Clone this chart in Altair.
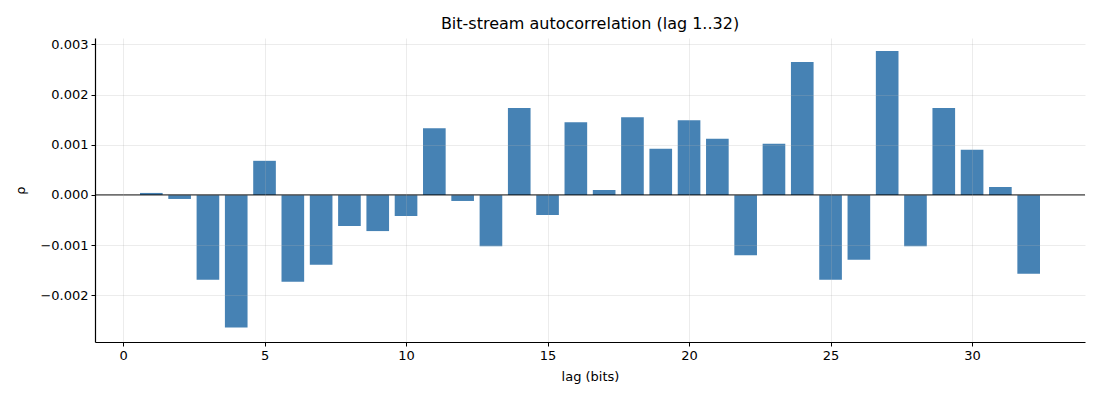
import altair as alt
import pandas as pd

lags = list(range(1, 33))
rho = [0.00004, -0.00008, -0.00169, -0.00264, 0.00068, -0.00173, -0.00139, -0.00062,
       -0.00072, -0.00042, 0.00133, -0.00012, -0.00102, 0.00173, -0.00040, 0.00145,
       0.00010, 0.00155, 0.00092, 0.00149, 0.00112, -0.00120, 0.00102, 0.00265,
       -0.00169, -0.00129, 0.00287, -0.00102, 0.00173, 0.00090, 0.00016, -0.00157]
x_ticks = [0, 5, 10, 15, 20, 25, 30]
y_ticks = [-0.002, -0.001, 0.0, 0.001, 0.002, 0.003]

df = pd.DataFrame({"lag": lags, "rho": rho})
df["x0"] = df["lag"] - 0.4
df["x1"] = df["lag"] + 0.4

FONT = "DejaVu Sans"
xscale = alt.Scale(domain=[-0.99, 33.99], nice=False, zero=False)
yscale = alt.Scale(domain=[-0.00293, 0.003127], nice=False, zero=False)

bars = alt.Chart(df).mark_rect(color="#4682b4").encode(
    x=alt.X("x0:Q", scale=xscale,
            axis=alt.Axis(values=x_ticks, title="lag (bits)", format="d", zindex=1)),
    x2="x1:Q",
    y=alt.Y("rho:Q", scale=yscale,
            axis=alt.Axis(values=y_ticks, title="ρ", format=".3f", zindex=1)),
    y2=alt.datum(0),
)

zero = alt.Chart(pd.DataFrame({"z": [0.0]})).mark_rule(color="black", strokeWidth=1).encode(
    y=alt.Y("z:Q", scale=yscale)
)

chart = (bars + zero).properties(
    width=990, height=304,
    title=alt.Title("Bit-stream autocorrelation (lag 1..32)", font=FONT, fontSize=16,
                    fontWeight="normal", color="black", offset=6),
    autosize=alt.AutoSizeParams(type="none"),
    padding={"left": 87, "top": 30, "right": 7, "bottom": 50},
).configure_view(stroke=None).configure_axis(
    labelFont=FONT, labelFontSize=13, labelColor="black",
    titleFont=FONT, titleFontSize=13, titleFontWeight="normal", titleColor="black",
    domainColor="black", domainWidth=1.2,
    tickColor="black", tickSize=4, tickWidth=1,
    gridColor="#b0b0b0", gridOpacity=0.3, gridWidth=0.8,
    labelPadding=3,
).configure_axisX(titlePadding=8).configure_axisY(titlePadding=12, titleAngle=270)

chart.save("out.html", embed_options={"renderer": "svg", "actions": False})
